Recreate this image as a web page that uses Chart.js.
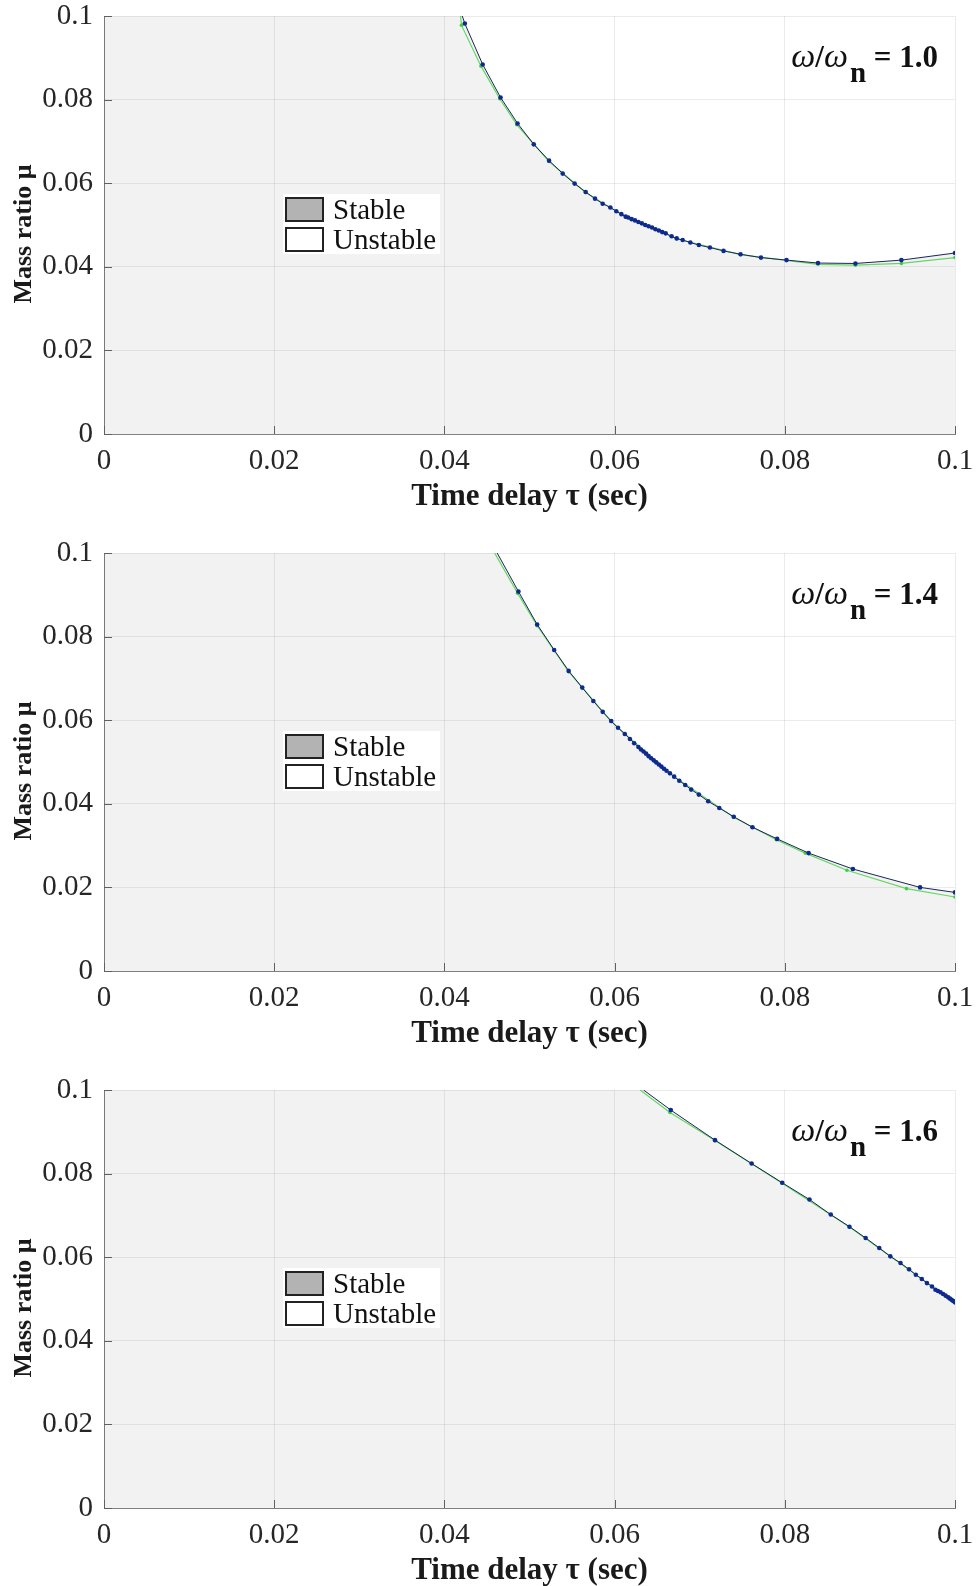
<!DOCTYPE html>
<html>
<head>
<meta charset="utf-8">
<script src="https://cdn.jsdelivr.net/npm/chart.js@4.4.0/dist/chart.umd.min.js"></script>
<style>
  body { margin: 0; background: #fff; }
  #page { position: relative; width: 976px; height: 1586px; }
  .panel { position: absolute; left: 0; width: 976px; height: 530px; }
  .panel canvas { position: absolute; left: 0; top: 0; }
  .leg {
    position: absolute; left: 283px; top: 194px; width: 157px; height: 60px;
    background: #fff; font: 29px 'Liberation Serif', 'Times New Roman', serif; color: #111;
  }
  .leg .row { height: 30px; display: flex; align-items: center; }
  .leg .sw { width: 35px; height: 21px; border: 2px solid #222; margin: 0 9px 0 2px; background: #fff; }
  .leg .sw.stable { background: #b3b3b3; }
  .ann {
    position: absolute; right: 38px; top: 37px; white-space: nowrap; line-height: 1;
    font: bold 31px 'Liberation Serif', 'Times New Roman', serif; color: #111;
  }
  .ann i { font-weight: normal; font-size: 34px; }
  .ann .sub { position: relative; top: 15px; margin-left: 2px; font-size: 29px; }
</style>
</head>
<body>
<div id="page">
  <div class="panel" style="top:0px">
    <canvas id="c1" width="976" height="530"></canvas>
    <div class="leg"><div class="row"><span class="sw stable"></span>Stable</div><div class="row"><span class="sw"></span>Unstable</div></div>
    <div class="ann"><i>ω</i>/<i>ω</i><span class="sub">n</span> = 1.0</div>
  </div>
  <div class="panel" style="top:537px">
    <canvas id="c2" width="976" height="530"></canvas>
    <div class="leg"><div class="row"><span class="sw stable"></span>Stable</div><div class="row"><span class="sw"></span>Unstable</div></div>
    <div class="ann"><i>ω</i>/<i>ω</i><span class="sub">n</span> = 1.4</div>
  </div>
  <div class="panel" style="top:1074px">
    <canvas id="c3" width="976" height="530"></canvas>
    <div class="leg"><div class="row"><span class="sw stable"></span>Stable</div><div class="row"><span class="sw"></span>Unstable</div></div>
    <div class="ann"><i>ω</i>/<i>ω</i><span class="sub">n</span> = 1.6</div>
  </div>
</div>
<script>
// tick values / labels
var xTicks = [0, 0.02, 0.04, 0.06, 0.08, 0.1];
var xTickLabels = ['0', '0.02', '0.04', '0.06', '0.08', '0.1'];
var yTicks = [0, 0.02, 0.04, 0.06, 0.08, 0.1];
var yTickLabels = ['0', '0.02', '0.04', '0.06', '0.08', '0.1'];

// w/wn = 1.0  boundary (dark curve with markers)
var tau10 = [0.0421, 0.0424, 0.0445, 0.0466, 0.0486, 0.0505, 0.0523, 0.0539, 0.0553, 0.0566, 0.0577, 0.0586, 0.0595, 0.0602, 0.0608, 0.0613,
  0.0616, 0.0620, 0.0624, 0.0628, 0.0632, 0.0636, 0.0640, 0.0644, 0.0648, 0.0652, 0.0656, 0.0660,
  0.0667, 0.0673, 0.0680, 0.0689, 0.0699, 0.0712, 0.0728, 0.0748, 0.0772, 0.0802, 0.0839, 0.0883, 0.0937, 0.1000];
var mu10 = [0.1000, 0.0982, 0.0884, 0.0805, 0.0743, 0.0693, 0.0654, 0.0623, 0.0599, 0.0579, 0.0563, 0.0551, 0.0542, 0.0533, 0.0526, 0.0520,
  0.0518, 0.0514, 0.0511, 0.0507, 0.0504, 0.0500, 0.0497, 0.0494, 0.0490, 0.0487, 0.0483, 0.0480,
  0.0473, 0.0468, 0.0464, 0.0458, 0.0452, 0.0446, 0.0438, 0.0430, 0.0422, 0.0416, 0.0409, 0.0408, 0.0416, 0.0433];
// green approx curve
var gTau10 = [0.0419, 0.0420, 0.0443, 0.0465, 0.0485, 0.0523, 0.0566, 0.0613, 0.0673, 0.0748, 0.0839, 0.0883, 0.0937, 0.1000];
var gMu10 = [0.1000, 0.0978, 0.0880, 0.0802, 0.0740, 0.0652, 0.0578, 0.0519, 0.0467, 0.0429, 0.0406, 0.0404, 0.0408, 0.0422];

// w/wn = 1.4
var tau14 = [0.0462, 0.0487, 0.0509, 0.0529, 0.0546, 0.0562, 0.0575, 0.0586, 0.0596, 0.0604, 0.0612, 0.0618, 0.0623, 0.0628,
  0.0631, 0.0634, 0.0637, 0.0640, 0.0643, 0.0646, 0.0649, 0.0652, 0.0655, 0.0658, 0.0661,
  0.0665, 0.0670, 0.0676, 0.0683, 0.0690, 0.0699, 0.0710, 0.0723, 0.0740, 0.0762, 0.0791, 0.0828, 0.0880, 0.0959, 0.1000];
var mu14 = [0.1000, 0.0908, 0.0829, 0.0768, 0.0718, 0.0678, 0.0646, 0.0620, 0.0598, 0.0582, 0.0567, 0.0555, 0.0545, 0.0536,
  0.0530, 0.0525, 0.0520, 0.0514, 0.0509, 0.0504, 0.0499, 0.0494, 0.0489, 0.0484, 0.0479,
  0.0473, 0.0465, 0.0455, 0.0445, 0.0434, 0.0422, 0.0406, 0.0390, 0.0369, 0.0344, 0.0316, 0.0282, 0.0244, 0.0200, 0.0188];
var gTau14 = [0.0459, 0.0486, 0.0509, 0.0546, 0.0596, 0.0665, 0.0740, 0.0790, 0.0824, 0.0873, 0.0943, 0.1000];
var gMu14 = [0.1000, 0.0904, 0.0826, 0.0716, 0.0597, 0.0472, 0.0368, 0.0314, 0.0282, 0.0241, 0.0197, 0.0177];

// w/wn = 1.6
var tau16 = [0.0634, 0.0666, 0.0718, 0.0761, 0.0797, 0.0829, 0.0854, 0.0876, 0.0895, 0.0911, 0.0924, 0.0936, 0.0946, 0.0954, 0.0961, 0.0967, 0.0973, 0.0977,
  0.0980, 0.0983, 0.0986, 0.0989, 0.0992, 0.0994, 0.0996, 0.0998, 0.1000];
var mu16 = [0.1000, 0.0952, 0.0880, 0.0824, 0.0778, 0.0738, 0.0702, 0.0673, 0.0646, 0.0622, 0.0602, 0.0586, 0.0571, 0.0558, 0.0548, 0.0538, 0.0530, 0.0522,
  0.0519, 0.0516, 0.0512, 0.0508, 0.0504, 0.0501, 0.0498, 0.0495, 0.0492];
var gTau16 = [0.0630, 0.0665, 0.0718, 0.0797, 0.0876, 0.0946, 0.1000];
var gMu16 = [0.1000, 0.0946, 0.0879, 0.0777, 0.0672, 0.0570, 0.0491];

Chart.defaults.font.family = "'Liberation Serif', 'Times New Roman', serif";
Chart.defaults.color = '#262626';

function pts(xs, ys) {
  return xs.map((v, i) => ({ x: v, y: ys[i] }));
}

// small inward tick marks like matlab axes
var inTicks = {
  id: 'inTicks',
  afterDraw(chart) {
    var ctx = chart.ctx, a = chart.chartArea, x = chart.scales.x, y = chart.scales.y;
    ctx.save();
    ctx.strokeStyle = '#606060';
    ctx.lineWidth = 1;
    ctx.beginPath();
    xTicks.forEach(v => {
      var px = Math.round(x.getPixelForValue(v)) + 0.5;
      ctx.moveTo(px, a.bottom); ctx.lineTo(px, a.bottom - 8);
    });
    yTicks.forEach(v => {
      var py = Math.round(y.getPixelForValue(v)) + 0.5;
      ctx.moveTo(a.left, py); ctx.lineTo(a.left + 8, py);
    });
    ctx.stroke();
    ctx.restore();
  }
};

function makeChart(id, xs, ys, gx, gy) {
  var stable = [{ x: 0, y: 0.1 }].concat(pts(xs, ys));
  return new Chart(document.getElementById(id), {
    type: 'line',
    data: {
      datasets: [
        {
          data: pts(xs, ys),
          borderColor: '#1b2459',
          borderWidth: 1,
          pointRadius: c => c.dataIndex === 0 ? 0 : 2.3,
          pointBackgroundColor: '#0f2a8f',
          pointBorderWidth: 0,
          tension: 0,
          fill: false
        },
        {
          data: pts(gx, gy),
          borderColor: '#62d862',
          borderWidth: 1.2,
          pointRadius: c => c.dataIndex === 0 ? 0 : 1.8,
          pointBackgroundColor: '#3fcf3f',
          pointBorderWidth: 0,
          tension: 0,
          fill: false
        },
        {
          data: stable,
          borderWidth: 0,
          pointRadius: 0,
          backgroundColor: 'rgba(0,0,0,0.05)',
          fill: 'origin',
          tension: 0
        }
      ]
    },
    options: {
      responsive: false,
      animation: false,
      layout: { padding: { top: 16, right: 21, left: 0, bottom: 0 } },
      plugins: { legend: { display: false }, tooltip: { enabled: false } },
      scales: {
        x: {
          type: 'linear', min: 0, max: 0.1,
          afterBuildTicks: s => { s.ticks = xTicks.map(v => ({ value: v })); },
          afterFit: s => { s.height = 96; s.paddingLeft = 0; s.paddingRight = 0; },
          ticks: { callback: (v, i) => xTickLabels[i], font: { size: 29 }, padding: 10, maxRotation: 0 },
          grid: { color: 'rgba(0,0,0,0.08)', drawTicks: false },
          border: { color: '#808080', width: 1 },
          title: { display: true, text: 'Time delay τ (sec)', font: { size: 31, weight: 'bold' }, color: '#1a1a1a', padding: { bottom: 14, top: 0 } }
        },
        y: {
          type: 'linear', min: 0, max: 0.1,
          afterBuildTicks: s => { s.ticks = yTicks.map(v => ({ value: v })); },
          afterFit: s => { s.width = 104; s.paddingTop = 0; s.paddingBottom = 0; },
          ticks: { callback: (v, i) => yTickLabels[i], font: { size: 29 }, padding: 11 },
          grid: { color: 'rgba(0,0,0,0.08)', drawTicks: false },
          border: { color: '#808080', width: 1 },
          // trailing spaces push the visible text a little lower, as in the original
          title: { display: true, text: 'Mass ratio μ\u2002\u2009', font: { size: 26, weight: 'bold' }, color: '#1a1a1a', padding: { top: 9, bottom: 0 } }
        }
      }
    },
    plugins: [inTicks]
  });
}

makeChart('c1', tau10, mu10, gTau10, gMu10);
makeChart('c2', tau14, mu14, gTau14, gMu14);
makeChart('c3', tau16, mu16, gTau16, gMu16);
</script>
</body>
</html>
